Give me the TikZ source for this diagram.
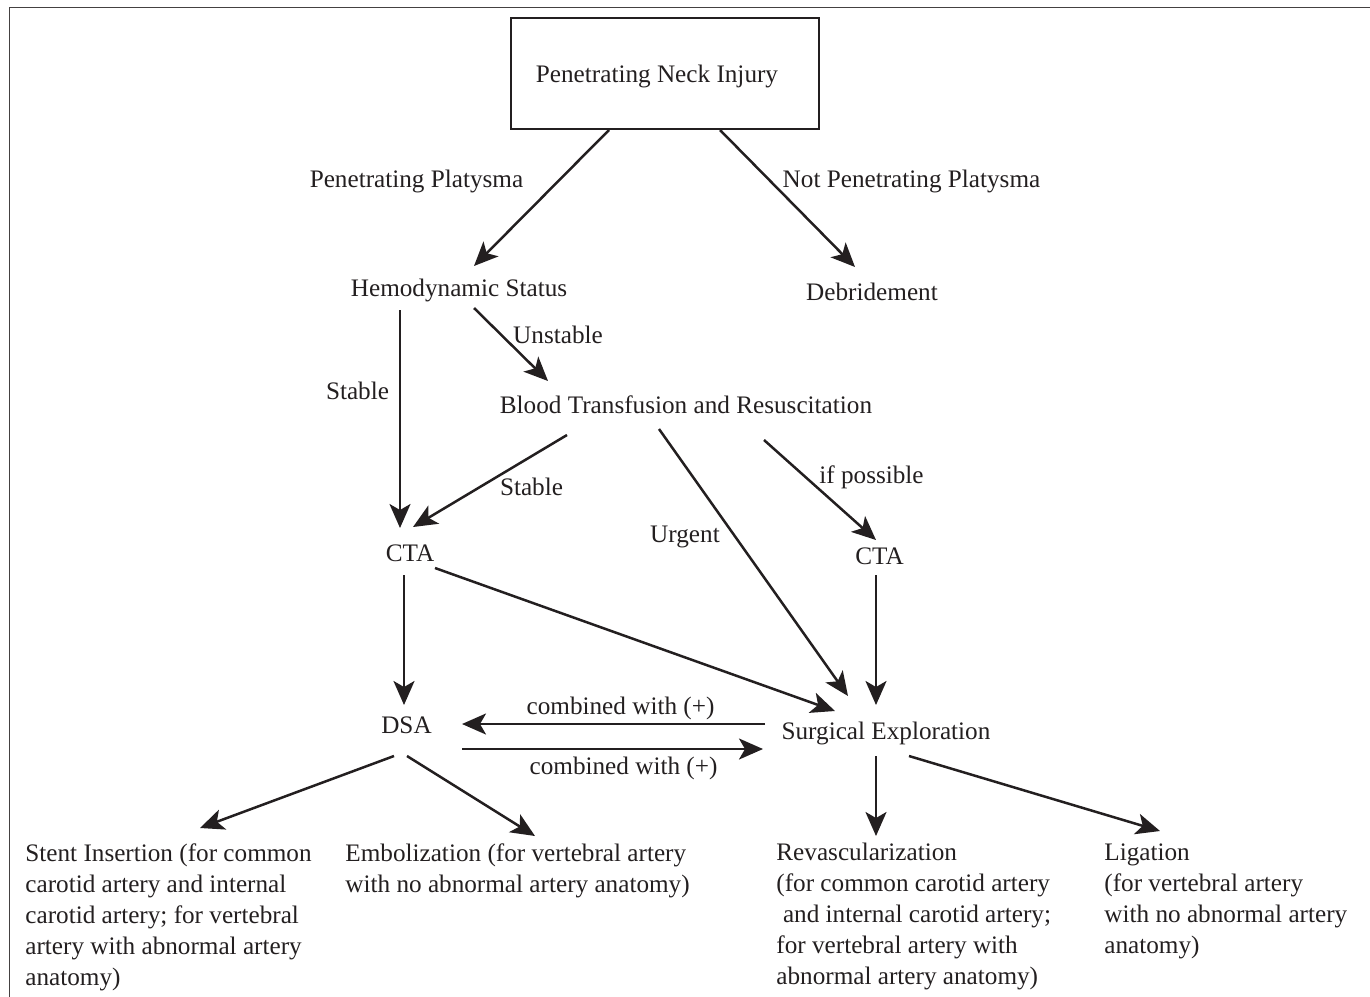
\documentclass[tikz,border=0pt]{standalone}
\usepackage{fontspec}
\setmainfont{Liberation Serif}
\usetikzlibrary{arrows.meta}
\definecolor{ink}{HTML}{231F20}
\begin{document}
\begin{tikzpicture}[x=0.5pt,y=-0.5pt,
  font=\fontsize{12.6}{15.5}\selectfont,
  lbl/.style={inner sep=0pt, text=ink, text height=8.7pt, text depth=0pt},
  box/.style={draw=ink, line width=1.2pt, minimum width=154pt, minimum height=55.5pt, inner sep=0pt, text=ink, text height=8.7pt, text depth=0pt},
  leaf/.style={inner sep=0pt, anchor=north west, align=left, text=ink},
  arr/.style={line width=1.25pt, draw=ink, -{Stealth[length=12pt,width=10.5pt,inset=3pt]}}]
\useasboundingbox (0,0) rectangle (1370,996);
\begin{scope}
\clip (0,0) rectangle (1370,996);
\draw[line width=0.9pt, draw=ink!85] (9.5,7.5) rectangle (1400,1030);
\end{scope}

% nodes
\node[box] (pni) at (665,73.5) {Penetrating Neck Injury\hspace*{8pt}};
\node[lbl] (hs) at (459,288) {Hemodynamic Status};
\node[lbl] (deb) at (872,292) {Debridement};
\node[lbl] (btr) at (686,405) {Blood Transfusion and Resuscitation};
\node[lbl] (cta1) at (410,553) {CTA};
\node[lbl] (cta2) at (879.5,556) {CTA};
\node[lbl] (dsa) at (406.5,725) {DSA};
\node[lbl] (se) at (886,731) {Surgical Exploration};

\node[leaf] (stent) at (25,843) {Stent Insertion (for common\\carotid artery and internal\\carotid artery; for vertebral\\artery with abnormal artery\\anatomy)};
\node[leaf] (emb) at (345,843) {Embolization (for vertebral artery\\with no abnormal artery anatomy)};
\node[leaf] (rev) at (776,843) {Revascularization\\(for common carotid artery\\\hspace*{3.3pt}and internal carotid artery;\\for vertebral artery with\\abnormal artery anatomy)};
\node[leaf] (lig) at (1104,843) {Ligation\\(for vertebral artery\\with no abnormal artery\\anatomy)};

% edge labels
\node[lbl] (lpp) at (416.5,179) {Penetrating Platysma};
\node[lbl] (lnpp) at (911.5,179) {Not Penetrating Platysma};
\node[lbl] (lst1) at (357.5,391) {Stable};
\node[lbl] (lun) at (558,335) {Unstable};
\node[lbl] (lst2) at (531.5,487) {Stable};
\node[lbl] (lurg) at (685,534) {Urgent};
\node[lbl] (lif) at (871.5,475) {if possible};
\node[lbl] (lc1) at (620.5,706) {combined with (+)};
\node[lbl] (lc2) at (623.5,766) {combined with (+)};

% connectors
\draw[arr] ([shift={(-56,56.5)}]pni.center) -- ([shift={(15,-22)}]hs.center);
\draw[arr] ([shift={(55,56.5)}]pni.center) -- ([shift={(-17,-25)}]deb.center);
\draw[arr] ([shift={(-59,22)}]hs.center) -- ([shift={(-10,-25)}]cta1.center);
\draw[arr] ([shift={(15,20)}]hs.center) -- ([shift={(-138,-24)}]btr.center);
\draw[arr] ([shift={(-119,30)}]btr.center) -- ([shift={(3,-26)}]cta1.center);
\draw[arr] ([shift={(-27,24)}]btr.center) -- ([shift={(-38,-35)}]se.center);
\draw[arr] ([shift={(78,35)}]btr.center) -- ([shift={(-3.5,-16)}]cta2.center);
\draw[arr] ([shift={(-6,22)}]cta1.center) -- ([shift={(-2.5,-20)}]dsa.center);
\draw[arr] ([shift={(25,15)}]cta1.center) -- ([shift={(-51,-20)}]se.center);
\draw[arr] ([shift={(-3.5,19)}]cta2.center) -- ([shift={(-10,-26)}]se.center);
\draw[arr] ([shift={(-121,-7)}]se.center) -- ([shift={(55.5,-1)}]dsa.center);
\draw[arr] ([shift={(55.5,24)}]dsa.center) -- ([shift={(-123,18)}]se.center);
\draw[arr] ([shift={(-12.5,31)}]dsa.center) -- ([shift={(175,-15)}]stent.north west);
\draw[arr] ([shift={(0.5,31)}]dsa.center) -- ([shift={(190,-7)}]emb.north west);
\draw[arr] ([shift={(-10,25)}]se.center) -- ([shift={(100,-7)}]rev.north west);
\draw[arr] ([shift={(23,25)}]se.center) -- ([shift={(56,-12)}]lig.north west);
\end{tikzpicture}
\end{document}
